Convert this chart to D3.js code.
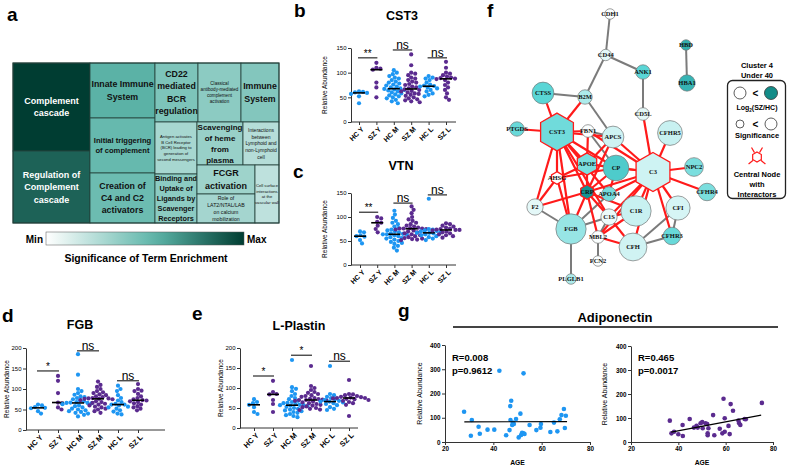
<!DOCTYPE html>
<html><head><meta charset="utf-8">
<script src="https://cdn.jsdelivr.net/npm/d3@7"></script>
<style>body{margin:0;background:#fff}svg text{font-family:'Liberation Sans',Arial,Helvetica,sans-serif}</style>
</head><body>
<script>
// ---------------- DATA ----------------
// Panel a: treemap of enriched terms
const termLines = [
 ["Complement","cascade"],
 ["Regulation of","Complement","cascade"],
 ["Innate Immune","System"],
 ["Initial triggering","of complement"],
 ["Creation of","C4 and C2","activators"],
 ["CD22","mediated","BCR","regulation"],
 ["Classical","antibody-mediated","complement","activation"],
 ["Immune","System"],
 ["Antigen activates","B Cell Receptor","(BCR) leading to","generation of","second messengers"],
 ["Binding and","Uptake of","Ligands by","Scavenger","Receptors"],
 ["Scavenging","of heme","from","plasma"],
 ["Interactions","between","Lymphoid and","non-Lymphoid","cell"],
 ["FCGR","activation"],
 ["Role of","LAT2/NTAL/LAB","on calcium","mobilization"],
 ["Cell surface","interactions","at the","vascular wall"]
];
const termSize = [6776,5544,3575,3575,3250,2537,2537,2242,2184,2058,1978,1548,1682,1682,1392];
const termEnrichment = [1.0,0.86,0.56,0.52,0.50,0.44,0.39,0.42,0.30,0.39,0.35,0.25,0.33,0.31,0.22];
const termNesting = [[0,1],[2,3,4],[[5,6,7],[[8,9],[[10,11],[[12,13],14]]]]];

// Panels b-e: relative abundance by group
const groups = ["HC Y","SZ Y","HC M","SZ M","HC L","SZ L"];
const cst3 = [
 [62,61,60,59,57,52,38],
 [120,110,108,106,80,70,50],
 [105,100,97,93,90,88,85,82,80,78,76,74,72,70,68,67,66,65,64,62,60,58,56,54,52,50,48,45,42,38],
 [137,115,100,98,95,90,88,85,82,80,77,75,72,70,68,66,65,63,62,60,58,57,55,53,50,48,46,44,42,40],
 [93,90,88,85,80,76,74,73,72,70,68,65,62,58,55,52],
 [122,110,100,98,95,92,90,89,88,87,85,80,75,70,65,58,50,45]
];
const vtn = [
 [70,68,62,60,59,52,45],
 [100,97,90,88,82,75,68],
 [113,105,98,92,88,85,80,77,74,72,70,68,66,65,64,64,63,62,60,58,56,55,53,50,48,46,44,40,36,30],
 [122,115,108,100,95,92,88,85,82,80,78,77,76,76,76,75,74,72,70,68,66,64,62,60,58,56,55,54,53,52],
 [138,75,74,72,71,70,68,67,67,66,64,62,60,58,55,52],
 [87,85,82,80,78,76,75,74,73,73,72,70,68,66,64,62,60,57]
];
const fgb = [
 [62,60,56,54,53,46,40],
 [132,120,90,67,65,55,50],
 [185,135,100,95,90,86,82,80,78,75,72,70,68,67,66,66,65,63,60,58,55,52,50,48,46,44,42,40,37,33],
 [118,110,105,100,95,92,90,87,85,82,80,78,77,77,76,76,75,73,70,68,66,64,62,60,57,55,52,50,46,42],
 [108,100,95,85,78,72,68,64,62,62,60,57,55,52,48,45,40,38],
 [112,100,96,95,88,82,78,75,73,72,70,68,65,62,58,55,52,48]
];
const lplastin = [
 [72,65,62,58,52,40,35],
 [118,90,85,84,70,60,40],
 [170,102,98,92,85,80,75,72,68,65,63,62,60,58,57,57,56,55,53,50,48,46,44,42,40,38,35,32,30,27],
 [155,105,100,95,90,88,85,82,80,78,75,73,72,71,70,70,69,68,66,64,62,60,58,56,54,52,50,48,46,45],
 [155,85,82,78,75,72,70,68,66,66,64,62,60,57,52,48,45],
 [120,85,84,82,80,78,77,76,75,75,74,73,72,70,68,65,62,58,30]
];
// significance brackets: [label, groupA, groupB, value]
const cst3Sig = [["**",0,1,130],["ns",2,3,146],["ns",4,5,130]];
const vtnSig = [["**",0,1,110],["ns",2,3,129],["ns",4,5,146]];
const fgbSig = [["*",0,1,144],["ns",2,3,193],["ns",4,5,120]];
const lplastinSig = [["*",0,1,130],["*",2,3,182],["ns",4,5,167]];

// Panel f: network
const netNames = ["CDH1","CD44","ANK1","CD5L","B2M","CTSS","PTGDS","CST3","FBN1","APCS","APOE","CP","C3","AHSG","CRP","APOA4","F2","C1S","C1R","FGB","MBL2","CFH","FCN2","PLGLB1","CFHR5","NPC2","CFHR4","CFI","CFHR3","HBD","HBA1"];
const netX = [110,105.7,143,143,85,43,17,57,88,113,87,116,153,57,87,109,35,109,136,71,98,133,98,71,170,194,207,178,172,186,187];
const netY = [14,55,72,114,97,93,129,132,131,137,164,168,172,178,192,194,207,217,211,229,237,247,261,279,133,167,192,208,236,45,83];
const netFC = [0.02,0.1,0.6,0.1,0.3,0.6,0.55,0.52,0.02,0.18,0.48,0.66,0.18,0.0,0.95,0.5,0.1,0.07,0.2,0.38,0.02,0.17,0.02,0.3,0.2,0.48,0.48,0.15,0.55,0.8,0.78];
const netSig = [0.03,0.06,0.16,0.1,0.16,0.4,0.16,0.93,0.1,0.4,0.42,0.53,0.97,0.1,0.16,0.16,0.22,0.22,0.68,0.68,0.1,0.6,0.03,0.03,0.5,0.3,0.26,0.48,0.26,0.03,0.22];
const netCentral = ["CST3","C3","APOE","CRP","AHSG"];
const netEdgesGray = [["CDH1","CD44"],["CD44","B2M"],["CD44","ANK1"],["ANK1","CD5L"],["HBD","HBA1"],["CTSS","B2M"],["B2M","APCS"],["FBN1","APCS"],["FBN1","CP"],["FGB","PLGLB1"],["MBL2","FCN2"],["F2","FGB"],["C1S","FGB"],["CFI","CFHR3"],["CFH","CFHR3"],["CFH","CFI"],["C1S","MBL2"],["APOA4","FGB"]];
const netEdgesRed = [["CST3","CTSS"],["CST3","PTGDS"],["CST3","B2M"],["CST3","FBN1"],["CST3","APCS"],["CST3","APOE"],["CST3","CP"],["CST3","AHSG"],["CST3","CRP"],["CST3","APOA4"],["CST3","FGB"],["CST3","F2"],["CST3","C1S"],
 ["C3","CD5L"],["C3","CFHR5"],["C3","NPC2"],["C3","CFHR4"],["C3","CFI"],["C3","CFHR3"],["C3","CFH"],["C3","C1R"],["C3","C1S"],["C3","CP"],["C3","APCS"],["C3","APOE"],["C3","CRP"],["C3","APOA4"],["C3","FBN1"],["C3","MBL2"],
 ["F2","CRP"],["F2","AHSG"],["AHSG","FGB"],["AHSG","APOE"],["AHSG","CP"],["CRP","FGB"],["CRP","APOE"],["CRP","CP"],["APOE","CP"],["APOE","APCS"],["C1R","MBL2"],["C1R","C1S"],["CFH","MBL2"],["CFH","C1S"],["APOA4","CP"],["CRP","C1S"],["APCS","CRP"],["MBL2","CRP"],["C1R","CRP"],["FBN1","APOE"]];

// Panel g: adiponectin vs age
const hcAge = [27.9,31.1,30.7,33.9,34.4,37.6,40.4,42.5,45.3,46.7,47.0,47.4,47.1,48.1,47.8,48.5,49.4,50.5,51.2,51.5,51.9,52.5,52.9,52.5,55,57.8,59.5,59.7,63.6,65.1,66.5,67.5,68.2,69.2,70,69.6];
const hcAdipo = [125,91,26,63,34,51,51,294,28,49,148,170,91,80,70,74,95,19,117,29,38,36,33,283,70,49,59,74,41,80,44,94,111,136,108,58];
const szAge = [36.4,37.1,38.2,40,41.9,41.8,44.8,46.6,47.7,48.2,49.4,50.1,50.3,51.5,52.2,52.4,52.4,52.7,54.7,55.2,57.5,58.6,59.1,59.6,59.6,61.2,61.7,62.1,63.1,65.4,65.7,66.2,68,68.5,75.3];
const szAdipo = [89,36,43,32,25,71,96,60,68,60,78,83,57,78,75,36,28,57,112,28,55,36,180,99,43,67,33,158,130,89,78,71,96,95,163];
const hcFit = [[28,83],[70.5,84]];
const szFit = [[37,41],[75,112]];
const hcStats = ["R=0.008","p=0.9612"];
const szStats = ["R=0.465","p=0.0017"];

// ---------------- DRAW ----------------
const W = 787, H = 466;
const BLUE = "#1e96f2", PURPLE = "#5b2b8f";
const svg = d3.select("body").append("svg").attr("width", W).attr("height", H);

// panel letters
[["a",7,21],["b",294,17],["c",293,178],["d",2,322],["e",192,320],["f",487,17],["g",398,317]].forEach(([t,x,y]) =>
  svg.append("text").attr("x",x).attr("y",y).attr("font-size",19).attr("font-weight","bold").text(t));

// ---- Panel a: treemap ----
(function(){
  const tmColor = d3.scaleLinear().domain([0,0.55,1]).range(["#ffffff","#5db5a9","#003d32"]);
  const fontSize = [9,9,8.8,7.6,8.8,8.8,4.6,8.8,4.2,7.3,8,5,9,5.2,4.2];
  const bold = [1,1,1,1,1,1,0,1,0,1,1,0,1,0,0];
  function build(n){ return Array.isArray(n) ? {children:n.map(build)} : {idx:n, value:termSize[n]}; }
  const root = d3.hierarchy(build(termNesting)).sum(d => d.value || 0);
  d3.treemap().tile(d3.treemapSliceDice).size([266,160])(root);
  const g = svg.append("g").attr("transform","translate(13,63)");
  const leaf = g.selectAll("g").data(root.leaves()).join("g");
  leaf.append("rect").attr("x",d=>d.x0).attr("y",d=>d.y0).attr("width",d=>d.x1-d.x0).attr("height",d=>d.y1-d.y0)
    .attr("fill",d=>tmColor(termEnrichment[d.data.idx])).attr("stroke","#23403a").attr("stroke-width",0.8);
  leaf.each(function(d){
    const i = d.data.idx, fs = fontSize[i], lh = fs*(fs<6?1.35:1.4);
    const lines = termLines[i], cx=(d.x0+d.x1)/2, cy=(d.y0+d.y1)/2;
    const t = d3.select(this).append("text").attr("text-anchor","middle").attr("font-size",fs)
      .attr("font-weight",bold[i]?"bold":"normal").attr("fill", termEnrichment[i]>0.8?"#ffffff":"#111");
    lines.forEach((l,k)=> t.append("tspan").attr("x",cx).attr("y",cy-(lines.length-1)*lh/2+k*lh+fs*0.35).text(l));
  });
  g.append("rect").attr("width",266).attr("height",160).attr("fill","none").attr("stroke","#23403a").attr("stroke-width",1);
  // gradient legend
  const defs = svg.append("defs");
  const lg = defs.append("linearGradient").attr("id","tmgrad");
  d3.range(0,1.01,0.1).forEach(t=> lg.append("stop").attr("offset",t).attr("stop-color",tmColor(t)));
  const lx = d3.scaleLinear().domain([0,1]).range([46,244]);
  svg.append("rect").attr("x",lx(0)).attr("y",232).attr("width",lx(1)-lx(0)).attr("height",13).attr("fill","url(#tmgrad)").attr("stroke","#555").attr("stroke-width",0.5);
  svg.append("text").attr("x",lx(0)-3).attr("y",242.5).attr("text-anchor","end").attr("font-size",10).attr("font-weight","bold").text("Min");
  svg.append("text").attr("x",lx(1)+3).attr("y",242.5).attr("font-size",10).attr("font-weight","bold").text("Max");
  svg.append("text").attr("x",146).attr("y",262).attr("text-anchor","middle").attr("font-size",10.5).attr("font-weight","bold").text("Significance of Term Enrichment");
})();

// ---- Panels b-e: strip plots ----
function swarm(vals, y, r){
  const pts = vals.map(v=>({v, y:y(v), dx:0})).sort((a,b)=>a.y-b.y);
  const placed = [], d2 = (2*r*0.92)**2;
  for (const p of pts){
    for (let k=0;k<80;k++){
      const off = k===0?0:(k%2?1:-1)*Math.ceil(k/2)*0.5;
      if (placed.every(q=>(q.dx-off)**2+(q.y-p.y)**2>=d2)){ p.dx=off; break; }
    }
    placed.push(p);
  }
  return pts;
}
function strip(cfg){
  const g = svg.append("g");
  const x = d3.scalePoint().domain(groups).range(cfg.pts);
  const y = d3.scaleLinear().domain([0,cfg.ymax]).range(cfg.yr);
  const ya = g.append("g").attr("transform",`translate(${cfg.ax[0]},0)`)
    .call(d3.axisLeft(y).tickValues(d3.range(0,cfg.ymax+1,50)).tickSize(3).tickPadding(1.5).tickSizeOuter(0));
  ya.selectAll("text").attr("font-size",6).attr("font-family","'Liberation Sans',Arial,sans-serif");
  const xa = g.append("g").attr("transform",`translate(0,${cfg.yr[0]})`).call(d3.axisBottom(x).tickSize(3).tickSizeOuter(0));
  xa.select(".domain").attr("d",`M${cfg.ax[0]},0H${cfg.ax[1]}`);
  xa.selectAll("text").attr("x",0).attr("y",0).attr("dy","0.35em").attr("text-anchor","end")
    .attr("transform","translate(3,6) rotate(-45)").attr("font-size",cfg.xfs).attr("font-weight","bold").attr("font-family","'Liberation Sans',Arial,sans-serif");
  [ya,xa].forEach(a=>a.selectAll("path,line").attr("stroke","#333").attr("stroke-width",1));
  g.append("text").attr("transform",`translate(${cfg.ylabX},${(cfg.yr[0]+cfg.yr[1])/2}) rotate(-90)`).attr("text-anchor","middle")
    .attr("dy","0.35em").attr("font-size",6.5).text("Relative Abundance");
  g.append("text").attr("x",cfg.tx).attr("y",cfg.ty).attr("text-anchor","middle").attr("font-size",12.5).attr("font-weight","bold").text(cfg.title);
  cfg.vals.forEach((vals,i)=>{
    const col = i%2 ? PURPLE : BLUE;
    const cx = x(groups[i]);
    g.append("g").selectAll("circle").data(swarm(vals,y,2.1)).join("circle")
      .attr("cx",d=>cx+d.dx).attr("cy",d=>d.y).attr("r",2.1).attr("fill",col);
    const m = d3.median(vals);
    g.append("line").attr("x1",cx-6).attr("x2",cx+6).attr("y1",y(m)).attr("y2",y(m)).attr("stroke","#000").attr("stroke-width",1.6);
  });
  cfg.sig.forEach(([lab,a,b,v])=>{
    const x1 = x(groups[a])-1, x2 = x(groups[b])+1;
    g.append("line").attr("x1",x1).attr("x2",x2).attr("y1",y(v)).attr("y2",y(v)).attr("stroke","#000").attr("stroke-width",1);
    g.append("text").attr("x",(x1+x2)/2).attr("y",y(v)-1).attr("text-anchor","middle")
      .attr("font-size",lab==="ns"?12:10).text(lab);
  });
}
strip({title:"CST3",tx:402,ty:19.5,vals:cst3,sig:cst3Sig,ymax:150,ax:[351,456],pts:[359,446],yr:[122,48],ylabX:325,xfs:7});
strip({title:"VTN",tx:401,ty:170,vals:vtn,sig:vtnSig,ymax:150,ax:[351,456],pts:[360,446],yr:[265,193],ylabX:325,xfs:7});
strip({title:"FGB",tx:80,ty:329,vals:fgb,sig:fgbSig,ymax:200,ax:[26,165],pts:[38,138],yr:[430,348],ylabX:7,xfs:7.5});
strip({title:"L-Plastin",tx:299,ty:330,vals:lplastin,sig:lplastinSig,ymax:200,ax:[240,358],pts:[254,349],yr:[428,348],ylabX:221,xfs:7.5});

// ---- Panel f: network ----
(function(){
  const g = svg.append("g").attr("transform","translate(500,0)");
  const fc = d3.scaleLinear().domain([0,0.6,1]).range(["#ffffff","#5ad6d6","#0a8a8a"]);
  const rs = d3.scaleLinear().domain([0,1]).range([4.8,20]);
  const nodes = netNames.map((n,i)=>({n, x:netX[i], y:netY[i], r:rs(netSig[i]), c:fc(netFC[i])}));
  const byName = Object.fromEntries(nodes.map(d=>[d.n,d]));
  const hex = r => { const p=d3.path(); for(let k=0;k<6;k++){const a=(-90+60*k)*Math.PI/180; k?p.lineTo(r*Math.cos(a),r*Math.sin(a)):p.moveTo(r*Math.cos(a),r*Math.sin(a));} p.closePath(); return p.toString(); };
  g.selectAll("line.g").data(netEdgesGray).join("line").attr("x1",d=>byName[d[0]].x).attr("y1",d=>byName[d[0]].y)
    .attr("x2",d=>byName[d[1]].x).attr("y2",d=>byName[d[1]].y).attr("stroke","#7b7b7b").attr("stroke-width",2);
  g.selectAll("line.r").data(netEdgesRed).join("line").attr("x1",d=>byName[d[0]].x).attr("y1",d=>byName[d[0]].y)
    .attr("x2",d=>byName[d[1]].x).attr("y2",d=>byName[d[1]].y).attr("stroke","#ff1a1a").attr("stroke-width",2.2);
  const ng = g.selectAll("g.n").data(nodes).join("g").attr("transform",d=>`translate(${d.x},${d.y})`);
  ng.each(function(d){
    const s = d3.select(this);
    if (netCentral.includes(d.n)) s.append("path").attr("d",hex(d.r)).attr("fill",d.c).attr("stroke","#ff1a1a").attr("stroke-width",1.3);
    else s.append("circle").attr("r",d.r).attr("fill",d.c).attr("stroke","#777").attr("stroke-width",0.7);
  });
  ng.append("text").attr("text-anchor","middle").attr("dy","0.35em").attr("font-size",6.5).attr("font-weight","bold")
    .style("font-family","'Liberation Serif','Times New Roman',serif").attr("fill","#111").text(d=>d.n);
  // legend
  const L = svg.append("g");
  L.append("text").attr("x",757).attr("y",68).attr("text-anchor","middle").attr("font-size",7.5).attr("font-weight","bold").text("Cluster 4");
  L.append("text").attr("x",757).attr("y",78).attr("text-anchor","middle").attr("font-size",7.5).attr("font-weight","bold").text("Under 40");
  L.append("rect").attr("x",727.5).attr("y",80.5).attr("width",58).attr("height",118).attr("rx",5).attr("fill","none").attr("stroke","#222").attr("stroke-width",1.3);
  L.append("circle").attr("cx",740).attr("cy",93).attr("r",6).attr("fill","#fff").attr("stroke","#333").attr("stroke-width",0.8);
  L.append("circle").attr("cx",771).attr("cy",93).attr("r",6.5).attr("fill","#138c88").attr("stroke","#333").attr("stroke-width",0.8);
  L.append("text").attr("x",755.5).attr("y",96.5).attr("text-anchor","middle").attr("font-size",10).attr("font-weight","bold").text("<");
  const lt = L.append("text").attr("x",757).attr("y",110).attr("text-anchor","middle").attr("font-size",7).attr("font-weight","bold");
  lt.append("tspan").text("Log");
  lt.append("tspan").attr("font-size",4.5).attr("dy",1.5).text("2");
  lt.append("tspan").attr("dy",-1.5).text("(SZ/HC)");
  L.append("circle").attr("cx",740).attr("cy",124).attr("r",4).attr("fill","#fff").attr("stroke","#333").attr("stroke-width",0.8);
  L.append("circle").attr("cx",771).attr("cy",124).attr("r",6).attr("fill","#fff").attr("stroke","#333").attr("stroke-width",0.8);
  L.append("text").attr("x",755.5).attr("y",127.5).attr("text-anchor","middle").attr("font-size",10).attr("font-weight","bold").text("<");
  L.append("text").attr("x",757).attr("y",138).attr("text-anchor","middle").attr("font-size",7.5).attr("font-weight","bold").text("Significance");
  const ic = L.append("g").attr("transform","translate(757,157)");
  ic.append("path").attr("d",hex(5)).attr("fill","none").attr("stroke","#ff1a1a").attr("stroke-width",1.2);
  [-120,-60,140,40].forEach(deg=>{
    const a=deg*Math.PI/180;
    ic.append("line").attr("x1",5*Math.cos(a)).attr("y1",5*Math.sin(a)).attr("x2",11*Math.cos(a)).attr("y2",11*Math.sin(a)).attr("stroke","#ff1a1a").attr("stroke-width",1.2);
  });
  ["Central Node","with","Interactors"].forEach((t,k)=> L.append("text").attr("x",757).attr("y",177+k*10).attr("text-anchor","middle").attr("font-size",7.5).attr("font-weight","bold").text(t));
})();

// ---- Panel g: scatter ----
svg.append("text").attr("x",615).attr("y",322).attr("text-anchor","middle").attr("font-size",13).attr("font-weight","bold").text("Adiponectin");
svg.append("line").attr("x1",453).attr("x2",778).attr("y1",327).attr("y2",327).attr("stroke","#444").attr("stroke-width",2);
function scatter(cfg){
  const g = svg.append("g");
  const x = d3.scaleLinear().domain([20,80]).range(cfg.xr);
  const y = d3.scaleLinear().domain([0,400]).range(cfg.yr);
  const ya = g.append("g").attr("transform",`translate(${cfg.xr[0]},0)`).call(d3.axisLeft(y).tickValues([0,100,200,300,400]).tickSize(3).tickPadding(1.5).tickSizeOuter(0));
  const xa = g.append("g").attr("transform",`translate(0,${cfg.yr[0]})`).call(d3.axisBottom(x).tickValues([20,40,60,80]).tickSize(3).tickPadding(1.5).tickSizeOuter(0));
  [ya,xa].forEach(a=>{a.selectAll("path,line").attr("stroke","#333").attr("stroke-width",1);
    a.selectAll("text").attr("font-size",6.3).attr("font-weight","bold").attr("font-family","'Liberation Sans',Arial,sans-serif");});
  g.append("text").attr("x",(cfg.xr[0]+cfg.xr[1])/2).attr("y",465).attr("text-anchor","middle").attr("font-size",6.8).attr("font-weight","bold").text("AGE");
  g.append("text").attr("transform",`translate(${cfg.ylabX},${(cfg.yr[0]+cfg.yr[1])/2}) rotate(-90)`).attr("text-anchor","middle").attr("dy","0.35em").attr("font-size",7).text("Relative Abundance");
  cfg.stats.forEach((s,k)=> g.append("text").attr("x",cfg.xr[0]+7).attr("y",361+k*12.5).attr("font-size",9.5).attr("font-weight","bold").text(s));
  g.selectAll("circle").data(cfg.age.map((a,i)=>[a,cfg.val[i]])).join("circle").attr("cx",d=>x(d[0])).attr("cy",d=>y(d[1])).attr("r",2.3).attr("fill",cfg.color);
  g.append("line").attr("x1",x(cfg.fit[0][0])).attr("y1",y(cfg.fit[0][1])).attr("x2",x(cfg.fit[1][0])).attr("y2",y(cfg.fit[1][1])).attr("stroke","#000").attr("stroke-width",1.2);
}
scatter({xr:[445,590],yr:[442,345],age:hcAge,val:hcAdipo,fit:hcFit,stats:hcStats,color:BLUE,ylabX:420});
scatter({xr:[631,773],yr:[442,346],age:szAge,val:szAdipo,fit:szFit,stats:szStats,color:PURPLE,ylabX:605});
</script>
</body></html>
